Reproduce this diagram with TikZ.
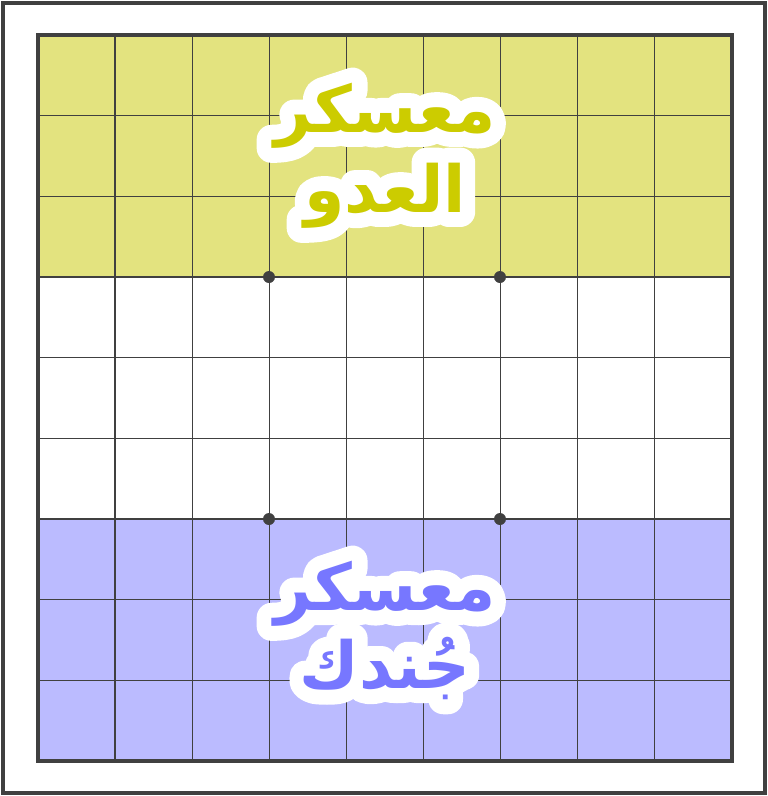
\documentclass[tikz,border=0pt]{standalone}
\usepackage{fontspec}
\newfontfamily\arabicfont[Script=Arabic]{DejaVu Sans}
\TeXXeTstate=1
\definecolor{campyellow}{HTML}{E3E37F}
\definecolor{campblue}{HTML}{BBBBFF}
\definecolor{textyellow}{HTML}{CCCC00}
\definecolor{textblue}{HTML}{7777FF}
\definecolor{gridgray}{HTML}{404040}
% outlined text for the white halo
\newcommand\halotext[1]{\special{pdf:code q 1 j 1 J 2 Tr 17 w 1 1 1 RG 1 1 1 rg}#1\special{pdf:code Q}}

\begin{document}
\begin{tikzpicture}[
  x=0.02cm, y=-0.02cm,
  gridline/.style={gridgray, line width=0.7pt},
  frame/.style={gridgray, line width=2.4pt},
  dot/.style={circle, fill=gridgray, inner sep=0pt, minimum size=0.24cm},
  camp/.style={font=\arabicfont\bfseries\fontsize{37}{40}\selectfont, inner sep=0pt, anchor=base}
]
\useasboundingbox (0,0) rectangle (768,796);
\draw[frame] (3,3) rectangle (765,793);

% camps
\fill[campyellow] (38,35) rectangle (732,277);
\fill[campblue] (38,519) rectangle (732,761);

% board lines
\foreach \i in {1,...,8} {
  \draw[gridline] ({38+\i*77.11},35) -- ({38+\i*77.11},761);
  \draw[gridline] (38,{35+\i*80.67}) -- (732,{35+\i*80.67});
}
\draw[frame] (38,35) rectangle (732,761);

\node[dot] (d1) at (269,277) {};
\node[dot] (d2) at (500,277) {};
\node[dot] (d3) at (269,519) {};
\node[dot] (d4) at (500,519) {};

% labels
\node[camp] (enemyhalo1) at (385,132) {\halotext{\beginR معسكر\endR}};
\node[camp] (enemyhalo2) at (385,212) {\halotext{\beginR العدو\endR}};
\node[camp] (armyhalo1) at (385,610) {\halotext{\beginR معسكر\endR}};
\node[camp] (armyhalo2) at (385,688) {\halotext{\beginR جُندك\endR}};
\node[camp, textyellow] (enemy1) at (385,132) {\beginR معسكر\endR};
\node[camp, textyellow] (enemy2) at (385,212) {\beginR العدو\endR};
\node[camp, textblue] (army1) at (385,610) {\beginR معسكر\endR};
\node[camp, textblue] (army2) at (385,688) {\beginR جُندك\endR};
\end{tikzpicture}
\end{document}
